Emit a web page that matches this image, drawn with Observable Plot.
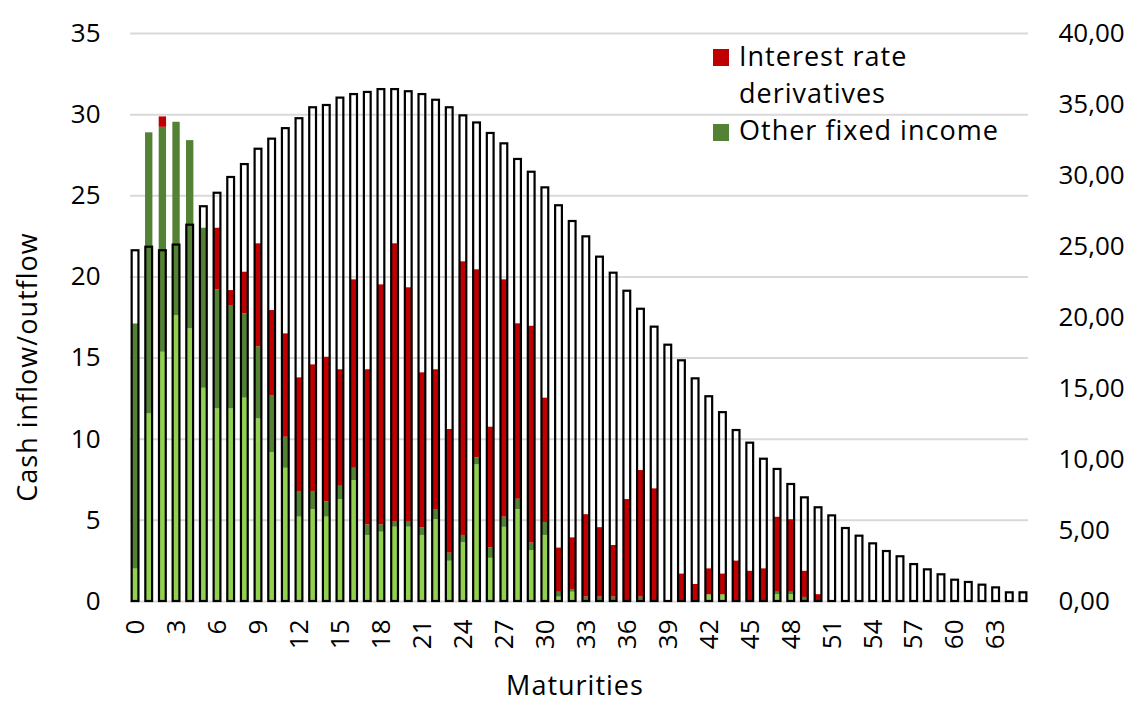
<!DOCTYPE html>
<html><head><meta charset="utf-8">
<script src="https://cdn.jsdelivr.net/npm/d3@7"></script>
<script src="https://cdn.jsdelivr.net/npm/@observablehq/plot@0.6"></script>
<style>
body{margin:0;background:#fff;}
#wrap{position:relative;width:1140px;height:707px;font-family:"Open Sans",sans-serif;color:#000;overflow:hidden;}
.abs{position:absolute;white-space:nowrap;font-size:27px;line-height:37px;letter-spacing:1px;}
.sw{position:absolute;width:16px;height:17px;}
</style></head><body><div id="wrap"></div>
<script>
// Maturity buckets
const maturities = d3.range(66);
// Outlined bars, read on the right axis (0,00 - 40,00)
const totalRight = [24.7, 24.95, 24.7, 25.1, 26.5, 27.8, 28.75, 29.86, 30.77, 31.85,
  32.56, 33.3, 34.0, 34.77, 34.93, 35.45, 35.7, 35.85, 36.05, 36.05,
  35.9, 35.7, 35.3, 34.77, 34.2, 33.7, 32.96, 32.23, 31.13, 30.23,
  29.13, 27.87, 26.76, 25.68, 24.25, 23.12, 21.85, 20.58, 19.32, 18.05,
  16.95, 15.68, 14.42, 13.3, 12.04, 11.15, 10.02, 9.3, 8.24, 7.3,
  6.6, 6.03, 5.14, 4.6, 4.06, 3.52, 3.15, 2.6, 2.23, 1.88,
  1.5, 1.34, 1.15, 0.96, 0.61, 0.61];
// Stacked series, read on the left axis (0 - 35)
const lightGreen = [2.0, 11.56, 15.36, 17.62, 16.8, 13.14, 11.87, 11.87, 12.53, 11.25,
  9.18, 8.21, 5.2, 5.67, 5.2, 6.28, 7.45, 4.07, 4.27, 4.58,
  4.58, 4.07, 5.05, 2.48, 3.62, 8.42, 2.66, 4.57, 5.67, 3.14,
  4.07, 0.27, 0.57, 0, 0, 0, 0, 0, 0, 0,
  0, 0, 0.41, 0.41, 0, 0, 0, 0.42, 0.42, 0,
  0, 0, 0, 0, 0, 0, 0, 0, 0, 0, 0, 0, 0, 0, 0, 0];
const otherFixedIncome = [15.1, 17.32, 13.86, 11.91, 11.6, 9.86, 7.33, 6.37, 5.19, 4.44,
  3.51, 1.91, 1.58, 1.11, 0.94, 0.82, 0.76, 0.65, 0.45, 0.31,
  0.31, 0.47, 0.62, 0.5, 0.45, 0.43, 0.64, 0.63, 0.63, 0.46,
  0.8, 0.3, 0.17, 0.27, 0.27, 0.27, 0, 0.27, 0, 0,
  0, 0, 0, 0, 0, 0, 0, 0.15, 0.15, 0.25,
  0, 0, 0, 0, 0, 0, 0, 0, 0, 0, 0, 0, 0, 0, 0, 0];
const interestRateDerivatives = [0, 0, 0.64, 0, 0, 0, 3.8, 0.92, 2.57, 6.35,
  5.24, 6.37, 7.0, 7.8, 8.91, 7.18, 11.61, 9.56, 14.79, 17.15,
  14.44, 9.55, 8.61, 7.62, 16.86, 11.59, 7.44, 14.62, 10.81, 13.36,
  7.66, 2.72, 3.18, 5.08, 4.28, 3.18, 6.28, 7.8, 6.94, 0,
  1.69, 1.05, 1.6, 1.28, 2.49, 1.86, 2.01, 4.62, 4.47, 1.61,
  0.42, 0, 0, 0, 0, 0, 0, 0, 0, 0, 0, 0, 0, 0, 0, 0];
const seriesNames = ["Light green", "Other fixed income", "Interest rate derivatives"];
const seriesColors = ["#92D050", "#548235", "#C00000"];
const leftTicks = d3.range(0, 36, 5);
const rightTickValues = d3.range(0, 41, 5);
const xTicks = d3.range(0, 66, 3);

const RATIO = 35 / 40; // right axis -> left axis units

const stacked = [];
maturities.forEach((m, i) => {
  stacked.push({m, s: seriesNames[0], v: lightGreen[i]});
  stacked.push({m, s: seriesNames[1], v: otherFixedIncome[i]});
  stacked.push({m, s: seriesNames[2], v: interestRateDerivatives[i]});
});
const totals = maturities.map((m, i) => ({m, v: totalRight[i]}));

const chart = Plot.plot({
  width: 1140,
  height: 707,
  marginLeft: 130,
  marginRight: 112,
  marginTop: 33,
  marginBottom: 106,
  style: {fontFamily: "'Open Sans', sans-serif", fontSize: "26px", color: "#000", background: "#fff"},
  x: {type: "band", domain: maturities, paddingInner: 0.46, paddingOuter: 0.1, axis: null},
  y: {domain: [0, 35], axis: null},
  color: {domain: seriesNames, range: seriesColors},
  marks: [
    Plot.gridY(leftTicks, {stroke: "#d9d9d9", strokeOpacity: 1, strokeWidth: 2}),
    Plot.barY(stacked, {x: "m", y: "v", fill: "s"}),
    Plot.barY(totals, {x: "m", y: d => d.v * RATIO, fill: "none", stroke: "#000", strokeWidth: 2.2, insetLeft: 0.3, insetRight: 0.3}),
    Plot.axisY(leftTicks, {anchor: "left", tickSize: 0, tickPadding: 30, label: null}),
    Plot.axisY(rightTickValues.map(v => v * RATIO), {anchor: "right", tickSize: 0, tickPadding: 30, label: null,
      tickFormat: d => (d / RATIO).toFixed(2).replace(".", ",")}),
    Plot.axisX(xTicks, {anchor: "bottom", tickSize: 0, tickPadding: 18, tickRotate: -90, label: null})
  ]
});

const wrap = document.getElementById("wrap");
wrap.appendChild(chart);

function addText(txt, css) {
  const d = document.createElement("div");
  d.className = "abs";
  d.textContent = txt;
  Object.assign(d.style, css);
  wrap.appendChild(d);
  return d;
}
// Axis titles
addText("Cash inflow/outflow", {left: "26px", top: "367px", transform: "translate(-50%,-50%) rotate(-90deg)"});
addText("Maturities", {left: "575px", top: "671px", lineHeight: "27px", transform: "translateX(-50%)"});
// Legend
function sw(color, top) {
  const s = document.createElement("div");
  s.className = "sw";
  s.style.left = "713px"; s.style.top = top + "px"; s.style.background = color;
  wrap.appendChild(s);
}
sw(seriesColors[2], 49);
addText("Interest rate", {left: "739px", top: "37px"});
addText("derivatives", {left: "739px", top: "74px"});
sw(seriesColors[1], 124);
addText("Other fixed income", {left: "739px", top: "111px"});
</script></body></html>
